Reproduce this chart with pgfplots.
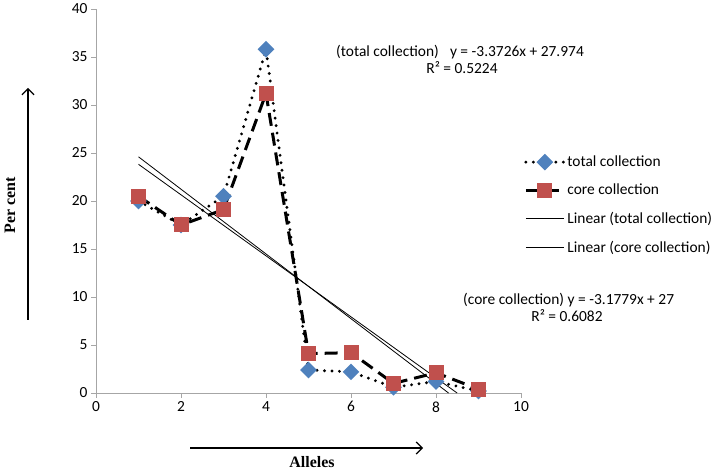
\documentclass[border=0pt]{standalone}
\usepackage{fontspec}
\setmainfont{Carlito}
\newfontfamily\serifb{Liberation Serif}
\usepackage{pgfplots}
\pgfplotsset{compat=1.18}
\usetikzlibrary{arrows.meta}
\definecolor{xblue}{HTML}{4F81BD}
\definecolor{xred}{HTML}{C0504D}
\begin{document}
\begin{tikzpicture}[x=1bp,y=1bp]
\useasboundingbox (0,0) rectangle (718,472);
\begin{axis}[at={(96bp,79bp)}, anchor=south west, scale only axis,
  width=425bp, height=384bp,
  xmin=0, xmax=10, ymin=0, ymax=40,
  axis lines=left, axis line style={draw=gray!70, -},
  xtick={0,2,...,10}, ytick={0,5,...,40},
  tick align=outside, major tick length=5bp, tick style={gray!70, thin},
  ticklabel style={font=\fontsize{15.5}{18}\selectfont},
  /pgf/number format/assume math mode=true,
  clip=false,
  legend style={at={(1.0,0.628)}, anchor=north west, draw=none, fill=none,
    font=\fontsize{15.5}{18}\selectfont, row sep=12bp,
    /tikz/every even column/.append style={column sep=2bp}},
  legend cell align=left,
  legend image code/.code={\draw[mark repeat=2,mark phase=2,#1] plot coordinates {(0bp,0bp)(19bp,0bp)(38bp,0bp)};},
]
\addplot[black, line width=3.2bp, dash pattern=on 0bp off 7.5bp, line cap=round,
  mark=square*, mark size=4.3bp, mark options={solid, rotate=45, fill=xblue, draw=xblue}]
  coordinates {(1,20.0)(2,17.5)(3,20.5)(4,35.8)(5,2.4)(6,2.2)(7,0.6)(8,1.2)(9,0.2)};
\addlegendentry{total collection}
\addplot[black, line width=3bp, dash pattern=on 13bp off 7bp,
  mark=square*, mark size=6bp, mark options={solid, fill=xred, draw=xred}]
  coordinates {(1,20.5)(2,17.5)(3,19.1)(4,31.2)(5,4.1)(6,4.2)(7,1.0)(8,2.1)(9,0.4)};
\addlegendentry{core collection}
\addplot[black, line width=0.8bp, no marks] coordinates {(1,24.6014)(8.2945,0)};
\addlegendentry{Linear (total collection)}
\addplot[black, line width=0.8bp, no marks] coordinates {(1,23.8221)(8.4962,0)};
\addlegendentry{Linear (core collection)}
\end{axis}
\node[anchor=west, font=\fontsize{15.5}{18}\selectfont, inner sep=0] at (336,420) {(total collection)\enspace\ y = -3.3726x + 27.974};
\node[font=\fontsize{15.5}{18}\selectfont, inner sep=0] at (462,404) {R² = 0.5224};
\node[anchor=west, font=\fontsize{15.5}{18}\selectfont, inner sep=0] at (463,172) {(core collection) y = -3.1779x + 27};
\node[font=\fontsize{15.5}{18}\selectfont, inner sep=0] at (567,156) {R² = 0.6082};
\node[rotate=90, font=\serifb\bfseries\fontsize{16}{19}\selectfont] at (10,267) {Per cent};
\draw[-{Straight Barb[length=6bp,width=12bp]}, line width=1.2bp] (28,152) -- (28,384);
\draw[-{Straight Barb[length=6bp,width=12bp]}, line width=1.2bp] (190,24) -- (423,24);
\node[font=\serifb\bfseries\fontsize{16}{19}\selectfont] at (312,10) {Alleles};
\end{tikzpicture}
\end{document}
